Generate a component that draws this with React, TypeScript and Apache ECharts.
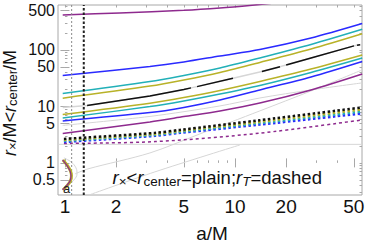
import React, { useEffect, useRef } from "react";
import * as echarts from "echarts";

// ---------- axis ranges & ticks ----------
const X_MIN = 0.91;
const X_MAX = 55.85;
const Y_MIN = 0.27;
const Y_MAX = 625;
const X_LABELS = [1, 2, 5, 10, 20, 50];
const X_MINOR = [1, 2, 3, 4, 5, 6, 7, 8, 9, 10, 20, 30, 40, 50];
const Y_LABELS = [0.5, 1, 5, 10, 50, 100, 500];
const Y_MINOR = [0.3, 0.4, 0.5, 0.6, 0.7, 0.8, 0.9, 1, 2, 3, 4, 5, 6, 7, 8, 9, 10, 20, 30, 40, 50, 60, 70, 80, 90, 100, 200, 300, 400, 500, 600];

// ---------- plain curves (r_x < r_center) ----------
const A_PLAIN = [0.97, 3.16, 5.0, 8.16, 14.0, 28.0, 56.0];
const bluePlainHi = [35.4, 51.0, 61.3, 78.3, 102, 163, 294];
const cyanPlainHi = [16.9, 27.5, 35.4, 48.0, 72.2, 125, 232];
const yellowPlainHi = [14.0, 22.9, 29.4, 40.0, 60.1, 104, 194];
const yellowPlainLo = [7.22, 11.4, 14.4, 19.2, 27.7, 46.1, 81.6];
const cyanPlainLo = [6.26, 9.92, 12.5, 16.6, 23.5, 40.0, 72.2];
const bluePlainLo = [5.54, 7.77, 9.6, 13.0, 19.6, 33.3, 62.6];
const purplePlainLo = [3.33, 5.32, 6.6, 8.33, 11.5, 19.6, 37.6];

const A_PURPLE_TOP = [0.97, 2.1, 5.0, 8.16, 12.6, 24.1];
const purplePlainTop = [416, 452, 504, 554, 621, 752];

const A_BLACK = [0.97, 1.35, 3.16, 5.0, 5.51, 5.98, 9.73, 14.4, 18.4, 20.0, 28.0, 50.1, 52.2, 54.4, 56.0];
const blackPlain = [9.6, 10.4, 15.3, 20.0, 21.3, 22.4, 31.6, 41.6, 50.6, 54.3, 72.2, 118, 121, 124, 126];
const BLACK_SEGMENTS = [[1, 4], [5, 6], [7, 8], [9, 11], [12, 13]];

// ---------- r_T curves (dashed) ----------
const A_T = [0.986, 3.38, 4.75, 14.0, 56.0];
const blackT = [2.66, 3.4, 3.84, 5.7, 9.6];
const yellowT = [2.55, 3.26, 3.69, 5.36, 8.85];
const cyanT = [2.45, 3.13, 3.54, 5.06, 8.16];
const blueT = [2.35, 3.01, 3.4, 4.76, 7.52];
const A_PURPLE_T = [0.986, 3.38, 14.0, 56.0];
const purpleT = [2.21, 2.38, 3.36, 5.77];

// ---------- light gray curves ----------
const A_GRAY_H = [0.91, 55.85];
const grayH = [2.13, 2.13];
const A_GRAY_A = [0.97, 3.16, 8.16, 14.0, 28.0, 56.0];
const grayA = [4.61, 6.65, 10.2, 14.1, 19.6, 26.1];
const A_GRAY_C = [1.145, 1.366, 3.16, 6.22, 14.0, 28.0, 56.0];
const grayC = [0.639, 0.783, 1.5, 3.26, 8.33, 18.8, 44.3];
const A_GRAY_D = [1.366, 3.38, 10.7];
const grayD = [0.266, 0.693, 2.08];
const A_GRAY_ARC = [0.986, 1.085, 1.161, 1.177, 1.13, 1.041];
const grayArc = [1.226, 1.042, 0.816, 0.639, 0.5, 0.408];

// ---------- small arc near a=1 ----------
const A_ARC = [0.973, 1.027, 1.077, 1.092, 1.077, 1.027, 0.973];
const arcV = [1.13, 0.922, 0.722, 0.589, 0.48, 0.392, 0.333];

// ---------- vertical reference lines ----------
const VLINE_GRAY = 1.095;
const VLINE_BLACK = 1.29;

const PURPLE = "#8e2a8e";
const BLUE = "#2a2aff";
const CYAN = "#22b0b8";
const YELLOW = "#b8b228";
const BLACK = "#111111";
const GRAY = "#d6d6d6";
const FRAME = "#a8a8a8";
const FONT = "'Liberation Sans', Arial, Helvetica, sans-serif";

const zip = (a: number[], v: number[]) => a.map((x, i) => [x, v[i]]);

function line(name: string, data: number[][], color: string, width: number, type: any = "solid", smooth: any = 0.3, z = 2) {
  return {
    name,
    type: "line",
    data,
    xAxisIndex: 0,
    yAxisIndex: 0,
    showSymbol: false,
    symbol: "none",
    smooth,
    z,
    clip: true,
    silent: true,
    lineStyle: { color, width, type },
  };
}

const lg = (v: number) => Math.log10(v);
const fmt = (v: number) => String(Number(Math.pow(10, v).toPrecision(3)));

function xTickAxis(position: string, ticks: number[], len: number, labels?: number[]) {
  return {
    type: "value",
    position,
    min: lg(X_MIN),
    max: lg(X_MAX),
    axisLine: { show: false },
    splitLine: { show: false },
    axisTick: { show: true, inside: true, length: len, customValues: ticks.map(lg), lineStyle: { color: FRAME, width: 1 } },
    axisLabel: labels
      ? { show: true, customValues: labels.map(lg), formatter: fmt, margin: 4, fontSize: 19, lineHeight: 14, fontFamily: FONT, color: "#111" }
      : { show: false },
  };
}

function yTickAxis(position: string, ticks: number[], len: number, labels?: number[]) {
  return {
    type: "value",
    position,
    min: lg(Y_MIN),
    max: lg(Y_MAX),
    axisLine: { show: false },
    splitLine: { show: false },
    axisTick: { show: true, inside: true, length: len, customValues: ticks.map(lg), lineStyle: { color: FRAME, width: 1 } },
    axisLabel: labels
      ? { show: true, customValues: labels.map(lg), formatter: fmt, margin: 3, fontSize: 16, lineHeight: 12, fontFamily: FONT, color: "#111" }
      : { show: false },
  };
}

export default function App() {
  const ref = useRef<HTMLDivElement>(null);

  useEffect(() => {
    document.body.style.margin = "0";
    if (!ref.current) return;
    const chart = echarts.init(ref.current, undefined, { renderer: "svg" });

    const series: any[] = [];
    // gray background curves
    series.push(line("grayH", zip(A_GRAY_H, grayH), GRAY, 1, "solid", false, 1));
    series.push(line("grayA", zip(A_GRAY_A, grayA), GRAY, 1, "solid", 0.3, 1));
    series.push(line("grayC", zip(A_GRAY_C, grayC), GRAY, 1, "solid", 0.3, 1));
    series.push(line("grayD", zip(A_GRAY_D, grayD), GRAY, 1, "solid", 0.3, 1));
    series.push(line("grayArc", zip(A_GRAY_ARC, grayArc), GRAY, 1, "solid", 0.4, 1));
    series.push(line("grayBlack", zip(A_BLACK, blackPlain), GRAY, 1.5, "solid", false, 1));

    // vertical dotted lines
    series.push(line("vGray", [[VLINE_GRAY, Y_MIN], [VLINE_GRAY, Y_MAX]], "#8a8a8a", 1, [2, 2], false, 3));
    series.push(line("vBlack", [[VLINE_BLACK, Y_MIN], [VLINE_BLACK, Y_MAX]], "#222", 2, [2.5, 2], false, 3));

    // plain curves
    series.push(line("purpleTop", zip(A_PURPLE_TOP, purplePlainTop), PURPLE, 1.5));
    series.push(line("blueHi", zip(A_PLAIN, bluePlainHi), BLUE, 1.5));
    series.push(line("cyanHi", zip(A_PLAIN, cyanPlainHi), CYAN, 1.5));
    series.push(line("yellowHi", zip(A_PLAIN, yellowPlainHi), YELLOW, 1.5));
    BLACK_SEGMENTS.forEach(([s, e], k) => {
      series.push(line("black" + k, zip(A_BLACK.slice(s, e + 1), blackPlain.slice(s, e + 1)), BLACK, 1.5, "solid", false));
    });
    series.push(line("yellowLo", zip(A_PLAIN, yellowPlainLo), YELLOW, 1.5));
    series.push(line("cyanLo", zip(A_PLAIN, cyanPlainLo), CYAN, 1.5));
    series.push(line("blueLo", zip(A_PLAIN, bluePlainLo), BLUE, 1.5));
    series.push(line("purpleLo", zip(A_PLAIN, purplePlainLo), PURPLE, 1.5));

    // r_T dashed curves
    series.push(line("purpleT", zip(A_PURPLE_T, purpleT), PURPLE, 1.5, [3, 3]));
    series.push(line("blueT", zip(A_T, blueT), BLUE, 2.5, [2.5, 2.5]));
    series.push(line("cyanT", zip(A_T, cyanT), CYAN, 2.5, [2.5, 2.5]));
    series.push(line("yellowT", zip(A_T, yellowT), YELLOW, 2.5, [2.5, 2.5]));
    series.push(line("blackT", zip(A_T, blackT), BLACK, 2.5, [2.5, 2.5]));

    // arc near a = 1
    series.push(line("arcYellow", zip(A_ARC, arcV), YELLOW, 3, "solid", 0.4, 4));
    series.push(line("arcPurple", zip(A_ARC.map((x) => x * 0.994), arcV), PURPLE, 1.2, "solid", 0.4, 5));

    const mainRich = {
      i: { fontSize: 18.5, fontStyle: "italic", fontFamily: FONT, lineHeight: 22, fill: "#111" },
      n: { fontSize: 18.5, fontFamily: FONT, lineHeight: 22, fill: "#111" },
      s: { fontSize: 13.5, fontFamily: FONT, lineHeight: 12, verticalAlign: "bottom", fill: "#111" },
      si: { fontSize: 13.5, fontStyle: "italic", fontFamily: FONT, lineHeight: 12, verticalAlign: "bottom", fill: "#111" },
    };
    const nameRich = {
      i: { fontSize: 18, fontStyle: "italic", fontFamily: FONT, lineHeight: 18, fill: "#111" },
      n: { fontSize: 18, fontFamily: FONT, lineHeight: 18, fill: "#111" },
      s: { fontSize: 13, fontFamily: FONT, lineHeight: 10, verticalAlign: "bottom", fill: "#111" },
    };

    const option: any = {
      animation: false,
      grid: {
        left: 58,
        top: 5,
        width: 304,
        height: 190,
        show: true,
        borderColor: FRAME,
        borderWidth: 1,
        backgroundColor: "transparent",
      },
      xAxis: [
        { type: "log", logBase: 10, min: X_MIN, max: X_MAX, show: false },
        xTickAxis("bottom", X_LABELS, 4.5, X_LABELS),
        xTickAxis("bottom", X_MINOR, 2.5),
        xTickAxis("top", X_LABELS, 4.5),
        xTickAxis("top", X_MINOR, 2.5),
      ],
      yAxis: [
        { type: "log", logBase: 10, min: Y_MIN, max: Y_MAX, show: false },
        yTickAxis("left", Y_LABELS, 4.5, Y_LABELS),
        yTickAxis("left", Y_MINOR, 2.5),
        yTickAxis("right", Y_LABELS, 4.5),
        yTickAxis("right", Y_MINOR, 2.5),
      ],
      series,
      graphic: [
        {
          type: "text",
          x: 112.5,
          y: 166,
          z: 100,
          style: {
            text: "{i|r}{s|×}{n|<}{i|r}{s|center}{n|=plain;}{i|r}{si|T}{n|=dashed}",
            rich: mainRich,
            align: "left",
            verticalAlign: "top",
          },
        },
        {
          type: "text",
          x: 10,
          y: 103,
          rotation: Math.PI / 2,
          z: 100,
          style: {
            text: "{i|r}{s|×}{n|/M<}{i|r}{s|center}{n|/M}",
            rich: nameRich,
            align: "center",
            verticalAlign: "middle",
          },
        },
        {
          type: "text",
          x: 212,
          y: 233,
          z: 100,
          style: {
            text: "a/M",
            fontSize: 19,
            fontFamily: FONT,
            fill: "#111",
            align: "center",
            verticalAlign: "middle",
          },
        },
        {
          type: "text",
          x: 63,
          y: 193,
          z: 100,
          style: {
            text: "a",
            fontSize: 13,
            lineHeight: 9,
            fontFamily: FONT,
            fill: "#222",
            align: "left",
            verticalAlign: "bottom",
          },
        },
      ],
    };

    chart.setOption(option);
    return () => {
      chart.dispose();
    };
  }, []);

  return <div ref={ref} style={{ width: 368, height: 244 }} />;
}
